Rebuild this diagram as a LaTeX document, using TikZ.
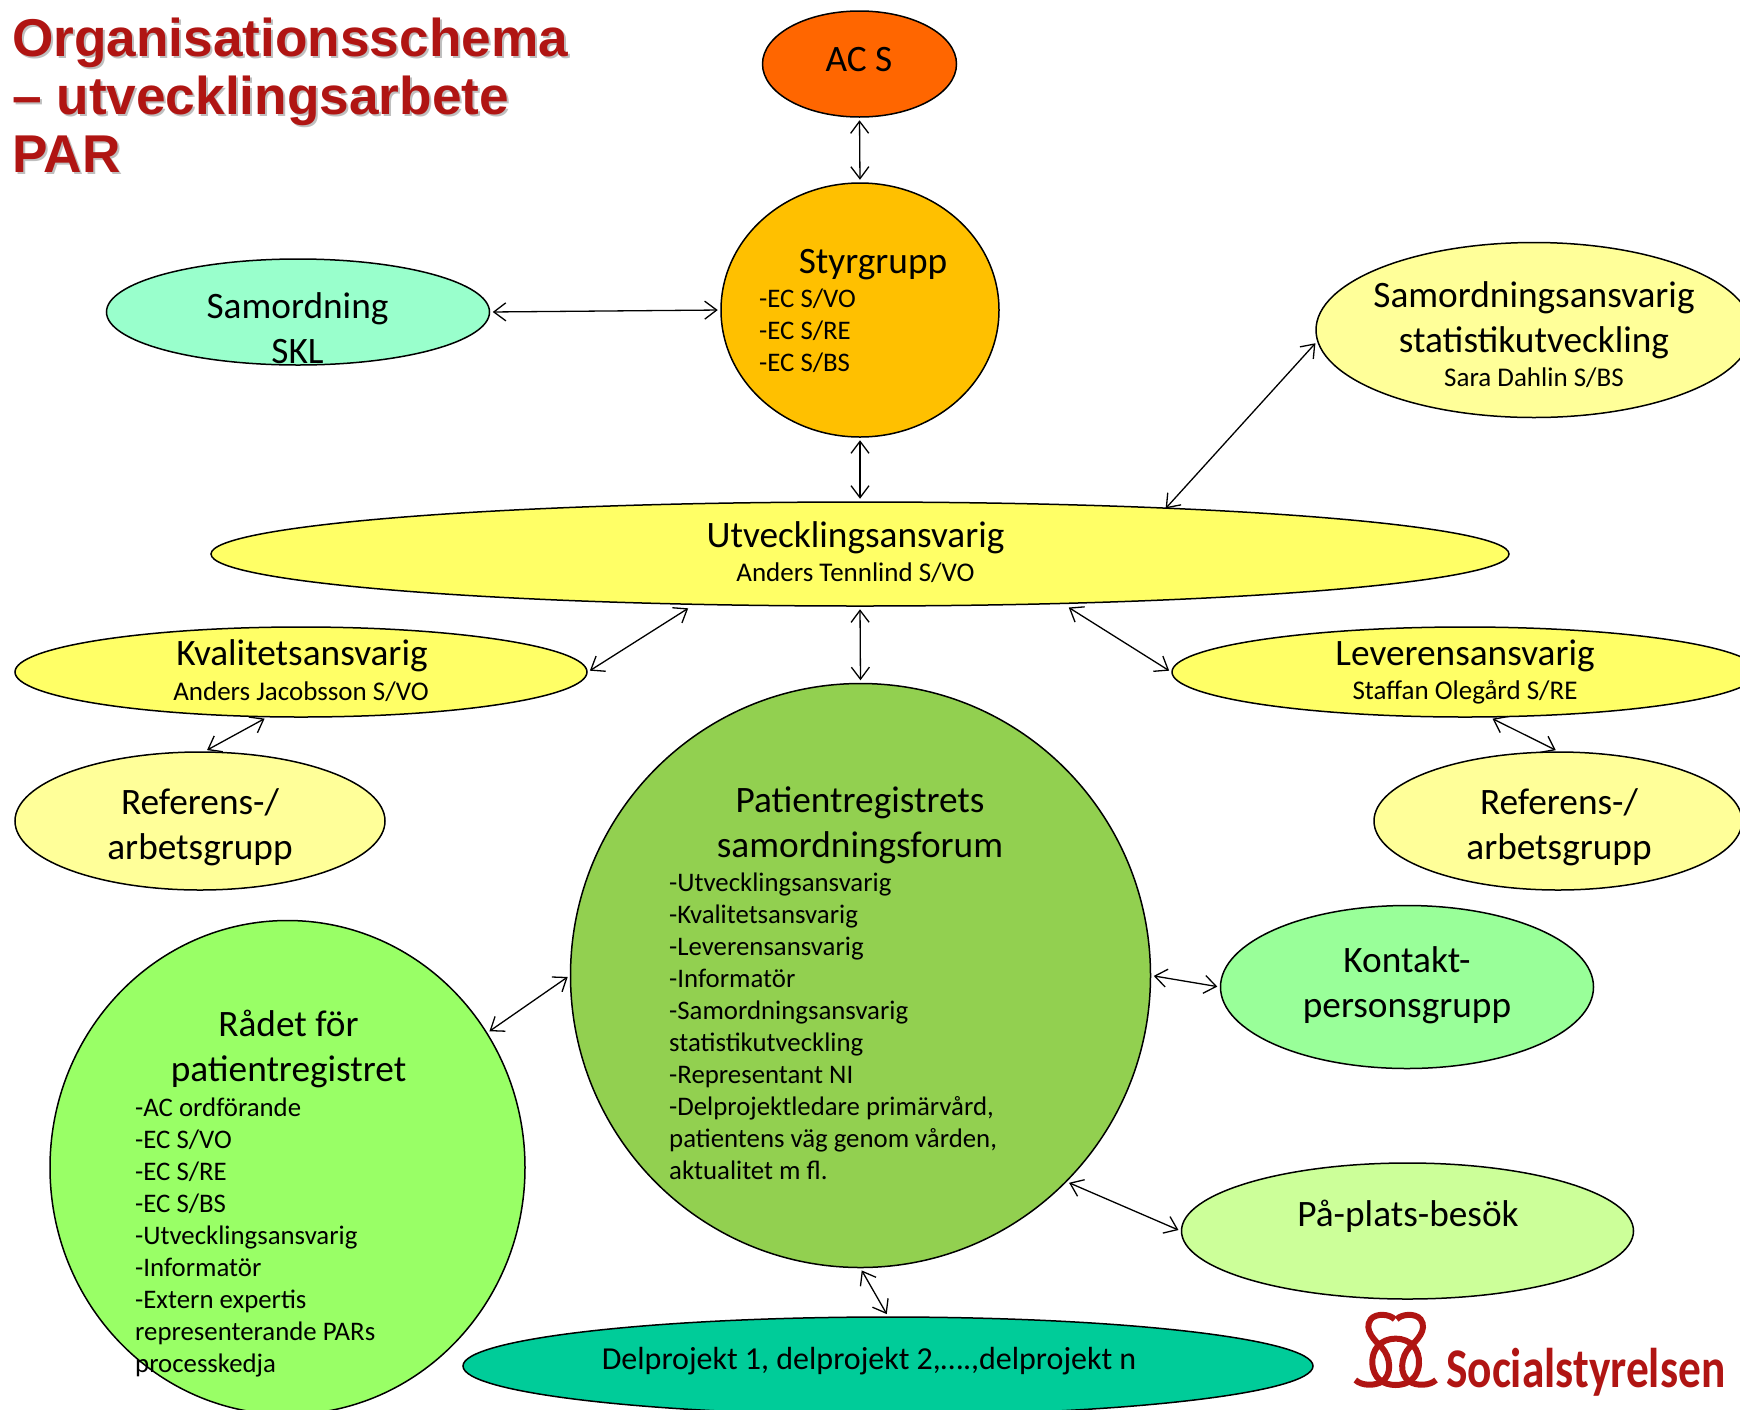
\documentclass[tikz,border=0pt]{standalone}
\usepackage{fontspec}
\setmainfont{Carlito}
\newfontfamily\headfont{Liberation Sans}
\usetikzlibrary{shapes.geometric,arrows.meta}
\definecolor{srred}{HTML}{B01513}
\definecolor{cacs}{HTML}{FF6600}
\definecolor{cstyr}{HTML}{FFC000}
\definecolor{csam}{HTML}{99FFCC}
\definecolor{cpale}{HTML}{FFFF99}
\definecolor{cansv}{HTML}{FFFF66}
\definecolor{cforum}{HTML}{92D050}
\definecolor{crad}{HTML}{99FF66}
\definecolor{ckont}{HTML}{99FF99}
\definecolor{cbes}{HTML}{CCFF99}
\definecolor{cdel}{HTML}{00CC99}
\tikzset{
  oval/.style={shape=ellipse,draw,line width=1.5pt,inner sep=0pt},
  bigtxt/.style={inner sep=0pt,align=center,font=\fontsize{37.3}{45}\selectfont},
  smalltxt/.style={inner sep=0pt,align=center,font=\fontsize{27}{32}\selectfont},
  listtxt/.style={inner sep=0pt,anchor=north west,align=left,font=\fontsize{26.8}{32}\selectfont},
  headtxt/.style={inner sep=0pt,anchor=north west,align=left,font=\headfont\bfseries\fontsize{53.2}{57.7}\selectfont},
  link/.style={line width=1.3pt,{Straight Barb[length=12pt,width=18pt]}-{Straight Barb[length=12pt,width=18pt]},shorten <=2.5pt,shorten >=2.5pt},
  logoline/.style={srred,line width=6pt},
}
\begin{document}
\begin{tikzpicture}[x=1pt,y=-1pt]
\useasboundingbox (0,0) rectangle (1740,1409);

\node [headtxt,text=black!25] (headshadow) at (14,20) {Organisationsschema\\– utvecklingsarbete\\PAR};
\node [headtxt,text=srred] (head) at (12,18) {Organisationsschema\\– utvecklingsarbete\\PAR};

\node [oval,fill=cacs,minimum width=194pt,minimum height=106pt]  (acs)  at (859.5,64) {};
\node [oval,fill=cstyr,minimum width=278pt,minimum height=254pt] (styr) at (860,310) {};
\node [oval,fill=csam,minimum width=383pt,minimum height=106pt]  (samskl) at (298,312) {};
\node [oval,fill=cpale,minimum width=436pt,minimum height=175pt] (samst)  at (1534,330) {};
\node [oval,fill=cansv,minimum width=1298pt,minimum height=104pt] (utv)   at (860,554) {};
\node [oval,fill=cansv,minimum width=572pt,minimum height=90pt] (kval)    at (301,672) {};
\node [oval,fill=cansv,minimum width=586pt,minimum height=90pt] (lev)     at (1465,672) {};
\node [oval,fill=cpale,minimum width=370pt,minimum height=138pt] (refl)   at (200,821) {};
\node [oval,fill=cpale,minimum width=368pt,minimum height=138pt] (refr)   at (1558,821) {};
\node [oval,fill=cforum,minimum width=580pt,minimum height=584pt] (forum) at (860.5,975.5) {};
\node [oval,fill=crad,minimum width=475pt,minimum height=494pt] (rad)     at (287.5,1167.5) {};
\node [oval,fill=ckont,minimum width=373pt,minimum height=163pt] (kont)   at (1407,987) {};
\node [oval,fill=cbes,minimum width=452pt,minimum height=136pt] (bes)     at (1407.5,1231) {};
\node [oval,fill=cdel,minimum width=850pt,minimum height=98pt] (del)      at (888,1366) {};

\node [bigtxt] (acstxt)  at (859,60) {AC S};
\node [bigtxt] (styrtxt) at (873,265) {Styrgrupp};
\node [listtxt] (styrlist) at (759,289) {-EC S/VO\\-EC S/RE\\-EC S/BS};
\node [bigtxt] (samskltxt) at (297.5,328) {Samordning\\SKL};
\node [bigtxt] (samsttxt) at (1534,320) {Samordningsansvarig\\statistikutveckling};
\node [smalltxt] (samstname) at (1534,378) {Sara Dahlin S/BS};
\node [bigtxt] (utvtxt)  at (855.5,538) {Utvecklingsansvarig};
\node [smalltxt] (utvname) at (855.5,573) {Anders Tennlind S/VO};
\node [bigtxt] (kvaltxt) at (302,656) {Kvalitetsansvarig};
\node [smalltxt] (kvalname) at (301,692) {Anders Jacobsson S/VO};
\node [bigtxt] (levtxt)  at (1465,656) {Leverensansvarig};
\node [smalltxt] (levname) at (1465,692) {Staffan Olegård S/RE};
\node [bigtxt] (refltxt) at (200,827) {Referens-/\\arbetsgrupp};
\node [bigtxt] (refrtxt) at (1559,827) {Referens-/\\arbetsgrupp};
\node [bigtxt] (forumtxt) at (860,825) {Patientregistrets\\samordningsforum};
\node [listtxt] (forumlist) at (669,873) {-Utvecklingsansvarig\\-Kvalitetsansvarig\\-Leverensansvarig\\-Informatör\\-Samordningsansvarig\\statistikutveckling\\-Representant NI\\-Delprojektledare primärvård,\\patientens väg genom vården,\\aktualitet m fl.};
\node [bigtxt] (radtxt)  at (288.5,1049) {Rådet för\\patientregistret};
\node [listtxt] (radlist) at (135,1098) {-AC ordförande\\-EC S/VO\\-EC S/RE\\-EC S/BS\\-Utvecklingsansvarig\\-Informatör\\-Extern expertis\\representerande PARs\\processkedja};
\node [bigtxt] (konttxt) at (1407,985) {Kontakt-\\personsgrupp};
\node [bigtxt] (bestxt)  at (1408,1216) {På-plats-besök};
\node [bigtxt,font=\fontsize{32}{36}\selectfont] (deltxt) at (869,1361) {Delprojekt 1, delprojekt 2,….,delprojekt n};

\draw [link] (acs.south) -- (styr.north) ;
\draw [link] (samskl.east) -- (styr.west) ;
\draw [link] (styr.south) -- (utv.north) ;
\draw [link] (samst.-177) -- ([shift={(-21,2)}]utv.8.95) ;
\draw [link] ([shift={(-3,2)}]utv.197) -- (kval.east) ;
\draw [link] (utv.south) -- (forum.north) ;
\draw [link] ([shift={(5.5,2)}]utv.-14) -- (lev.west) ;
\draw [link] (kval.233.5) -- (refl.86) ;
\draw [link] (lev.-61.5) -- (refr.north) ;
\draw [link] (forum.east) -- (kont.west) ;
\draw [link] (forum.west) -- (rad.34.6) ;
\draw [link] (forum.-45) -- (bes.west) ;
\draw [link] (forum.south) -- (del.north) ;

\begin{scope}[shift={(1340,1300)},x=0.3333pt,y=-0.3333pt]
  \draw [logoline] (164,58) .. controls (150,42) and (108,38) .. (92,58)
     .. controls (70,90) and (105,122) .. (125,142)
     .. controls (152,170) and (158,225) .. (125,245)
     .. controls (105,258) and (65,258) .. (46,240) ;
  \draw [logoline] (170,58) .. controls (184,42) and (226,38) .. (242,58)
     .. controls (264,90) and (229,122) .. (209,142)
     .. controls (182,170) and (176,225) .. (209,245)
     .. controls (229,258) and (269,258) .. (288,240) ;
  \draw [logoline] (167,116) .. controls (120,116) and (95,150) .. (97,190)
     .. controls (99,235) and (130,255) .. (167,255)
     .. controls (204,255) and (235,235) .. (237,190)
     .. controls (239,150) and (214,116) .. (167,116) -- cycle ;
\end{scope}
\node [inner sep=0pt,text=srred,anchor=base west,font=\bfseries\fontsize{56}{60}\selectfont,xscale=.81,transform shape] (logotxt) at (1446,1387) {Socialstyrelsen};
\end{tikzpicture}
\end{document}
